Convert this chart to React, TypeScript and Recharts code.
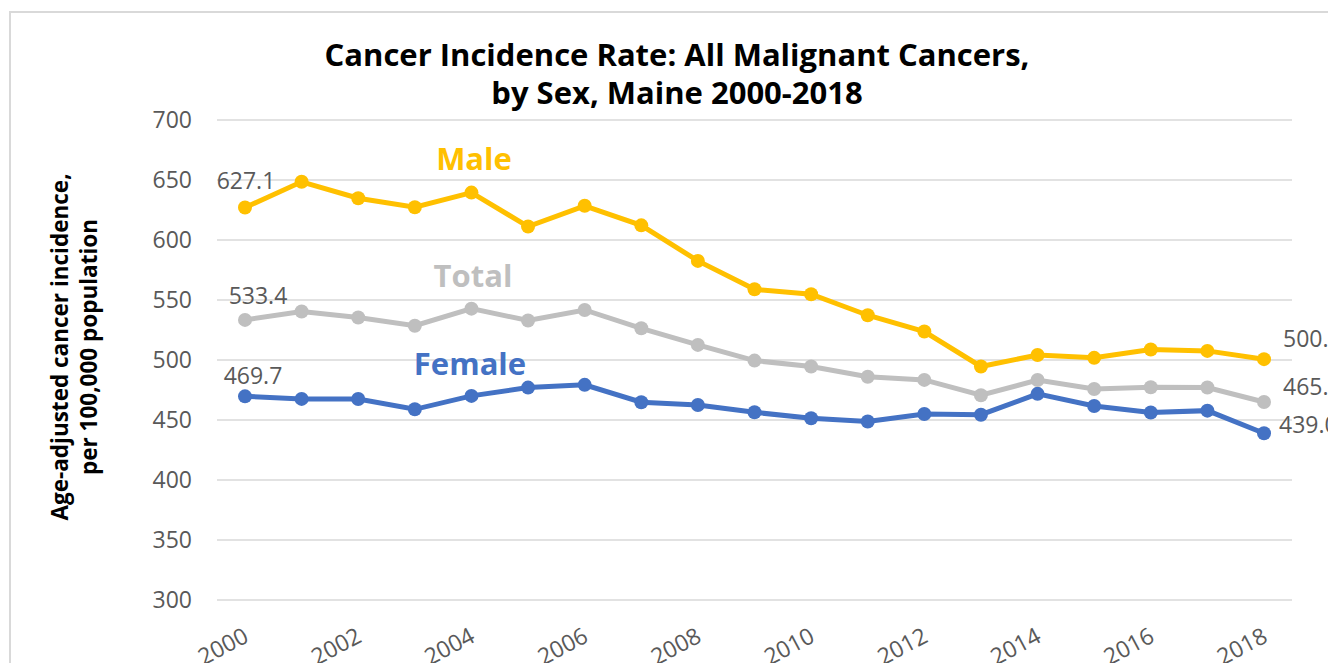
import React from "react";
import { CartesianGrid, LabelList, Line, LineChart, XAxis, YAxis } from "recharts";

const years: string[] = [
  "2000", "2001", "2002", "2003", "2004", "2005", "2006", "2007", "2008", "2009",
  "2010", "2011", "2012", "2013", "2014", "2015", "2016", "2017", "2018",
];
const male: number[] = [
  627.1, 648.5, 634.8, 627.3, 639.5, 611.2, 628.5, 612.2, 582.6, 558.9,
  554.8, 537.3, 523.7, 494.6, 504.2, 501.8, 508.8, 507.6, 500.7,
];
const total: number[] = [
  533.4, 540.4, 535.4, 528.6, 542.8, 532.9, 541.7, 526.4, 512.6, 499.5,
  494.6, 486.1, 483.4, 470.6, 483.3, 475.8, 477.3, 477.1, 465.0,
];
const female: number[] = [
  469.7, 467.6, 467.5, 458.9, 470.1, 477.0, 479.3, 464.8, 462.5, 456.4,
  451.4, 448.7, 455.0, 454.4, 471.8, 461.7, 456.2, 457.8, 439.0,
];
const yTicks: number[] = [300, 350, 400, 450, 500, 550, 600, 650, 700];

const rows = years.map((year, i) => ({
  year,
  male: male[i],
  total: total[i],
  female: female[i],
}));

// keep page height under the window so no scrollbar eats the right edge
const W = 1328;
const H = 655;
const FONT = "'Open Sans', 'Noto Sans', sans-serif";
const GOLD = "#FFC000";
const GRAY = "#BFBFBF";
const BLUE = "#4472C4";
const TEXT = "#595959";

// where Excel put the first / last value labels, relative to the point
const labelPos: Record<string, { first: [number, number]; last: [number, number] }> = {
  male: { first: [1, -18], last: [19, -12] },
  total: { first: [13, -16], last: [19, -7] },
  female: { first: [8, -12], last: [15, 0] },
};

function endLabels(key: string) {
  return (props: any) => {
    const { x, y, value, index } = props;
    const last = rows.length - 1;
    if (index !== 0 && index !== last) return null;
    const [dx, dy] = index === 0 ? labelPos[key].first : labelPos[key].last;
    return (
      <text
        x={x + dx}
        y={y + dy}
        textAnchor={index === 0 ? "middle" : "start"}
        fontFamily={FONT}
        fontSize={23}
        fill={TEXT}
      >
        {Number(value).toFixed(1)}
      </text>
    );
  };
}

function YTick(props: any) {
  const { x, y, payload } = props;
  return (
    <text x={x - 25} y={y + 8} textAnchor="end" fontFamily={FONT} fontSize={23} fill={TEXT}>
      {payload.value}
    </text>
  );
}

function XTick(props: any) {
  const { x, y, payload } = props;
  const tx = x + 5;
  const ty = y + 41;
  return (
    <text
      x={tx}
      y={ty}
      textAnchor="end"
      fontFamily={FONT}
      fontSize={23}
      fill={TEXT}
      transform={`rotate(-28, ${tx}, ${ty})`}
    >
      {payload.value}
    </text>
  );
}

export default function App() {
  return (
    <div style={{ position: "relative", width: W, height: H, background: "#fff" }}>
      <style>{`.recharts-wrapper, .recharts-surface { overflow: visible !important; }`}</style>
      <LineChart
        width={W}
        height={H}
        data={rows}
        margin={{ top: 112, right: 44, left: 0, bottom: 0 }}
      >
        <CartesianGrid vertical={false} stroke="#D9D9D9" strokeWidth={1.5} />
        <XAxis
          dataKey="year"
          interval={1}
          height={63}
          padding={{ left: 28, right: 28 }}
          tickLine={false}
          axisLine={false}
          tickSize={0}
          tickMargin={0}
          tick={<XTick />}
        />
        <YAxis
          domain={[300, 700]}
          ticks={yTicks}
          width={209}
          tickLine={false}
          axisLine={false}
          tickSize={0}
          tickMargin={0}
          tick={<YTick />}
        />
        <Line
          dataKey="female"
          stroke={BLUE}
          strokeWidth={5}
          dot={{ r: 7, fill: BLUE, stroke: BLUE, strokeWidth: 0 }}
          isAnimationActive={false}
        >
          <LabelList dataKey="female" content={endLabels("female")} />
        </Line>
        <Line
          dataKey="total"
          stroke={GRAY}
          strokeWidth={5}
          dot={{ r: 7, fill: GRAY, stroke: GRAY, strokeWidth: 0 }}
          isAnimationActive={false}
        >
          <LabelList dataKey="total" content={endLabels("total")} />
        </Line>
        <Line
          dataKey="male"
          stroke={GOLD}
          strokeWidth={5}
          dot={{ r: 7, fill: GOLD, stroke: GOLD, strokeWidth: 0 }}
          isAnimationActive={false}
        >
          <LabelList dataKey="male" content={endLabels("male")} />
        </Line>
      </LineChart>
      <svg
        width={W}
        height={H}
        style={{ position: "absolute", left: 0, top: 0, pointerEvents: "none" }}
      >
        <rect x={2} y={4} width={W + 20} height={H + 20} fill="none" stroke="#D9D9D9" strokeWidth={2} />
        <text x={669} y={58} textAnchor="middle" fontFamily={FONT} fontSize={31} fontWeight="bold" fill="#000">
          Cancer Incidence Rate: All Malignant Cancers,
        </text>
        <text x={669} y={96} textAnchor="middle" fontFamily={FONT} fontSize={31} fontWeight="bold" fill="#000">
          by Sex, Maine 2000-2018
        </text>
        <text
          x={60}
          y={339}
          textAnchor="middle"
          fontFamily={FONT}
          fontSize={22.5}
          fontWeight="bold"
          fill="#000"
          transform="rotate(-90, 60, 339)"
        >
          Age-adjusted cancer incidence,
        </text>
        <text
          x={89}
          y={339}
          textAnchor="middle"
          fontFamily={FONT}
          fontSize={22.5}
          fontWeight="bold"
          fill="#000"
          transform="rotate(-90, 89, 339)"
        >
          per 100,000 population
        </text>
        <text x={466} y={162} textAnchor="middle" fontFamily={FONT} fontSize={31} fontWeight="bold" fill={GOLD}>
          Male
        </text>
        <text x={465} y={279} textAnchor="middle" fontFamily={FONT} fontSize={31} fontWeight="bold" fill={GRAY}>
          Total
        </text>
        <text x={462} y={367} textAnchor="middle" fontFamily={FONT} fontSize={31} fontWeight="bold" fill={BLUE}>
          Female
        </text>
      </svg>
    </div>
  );
}
